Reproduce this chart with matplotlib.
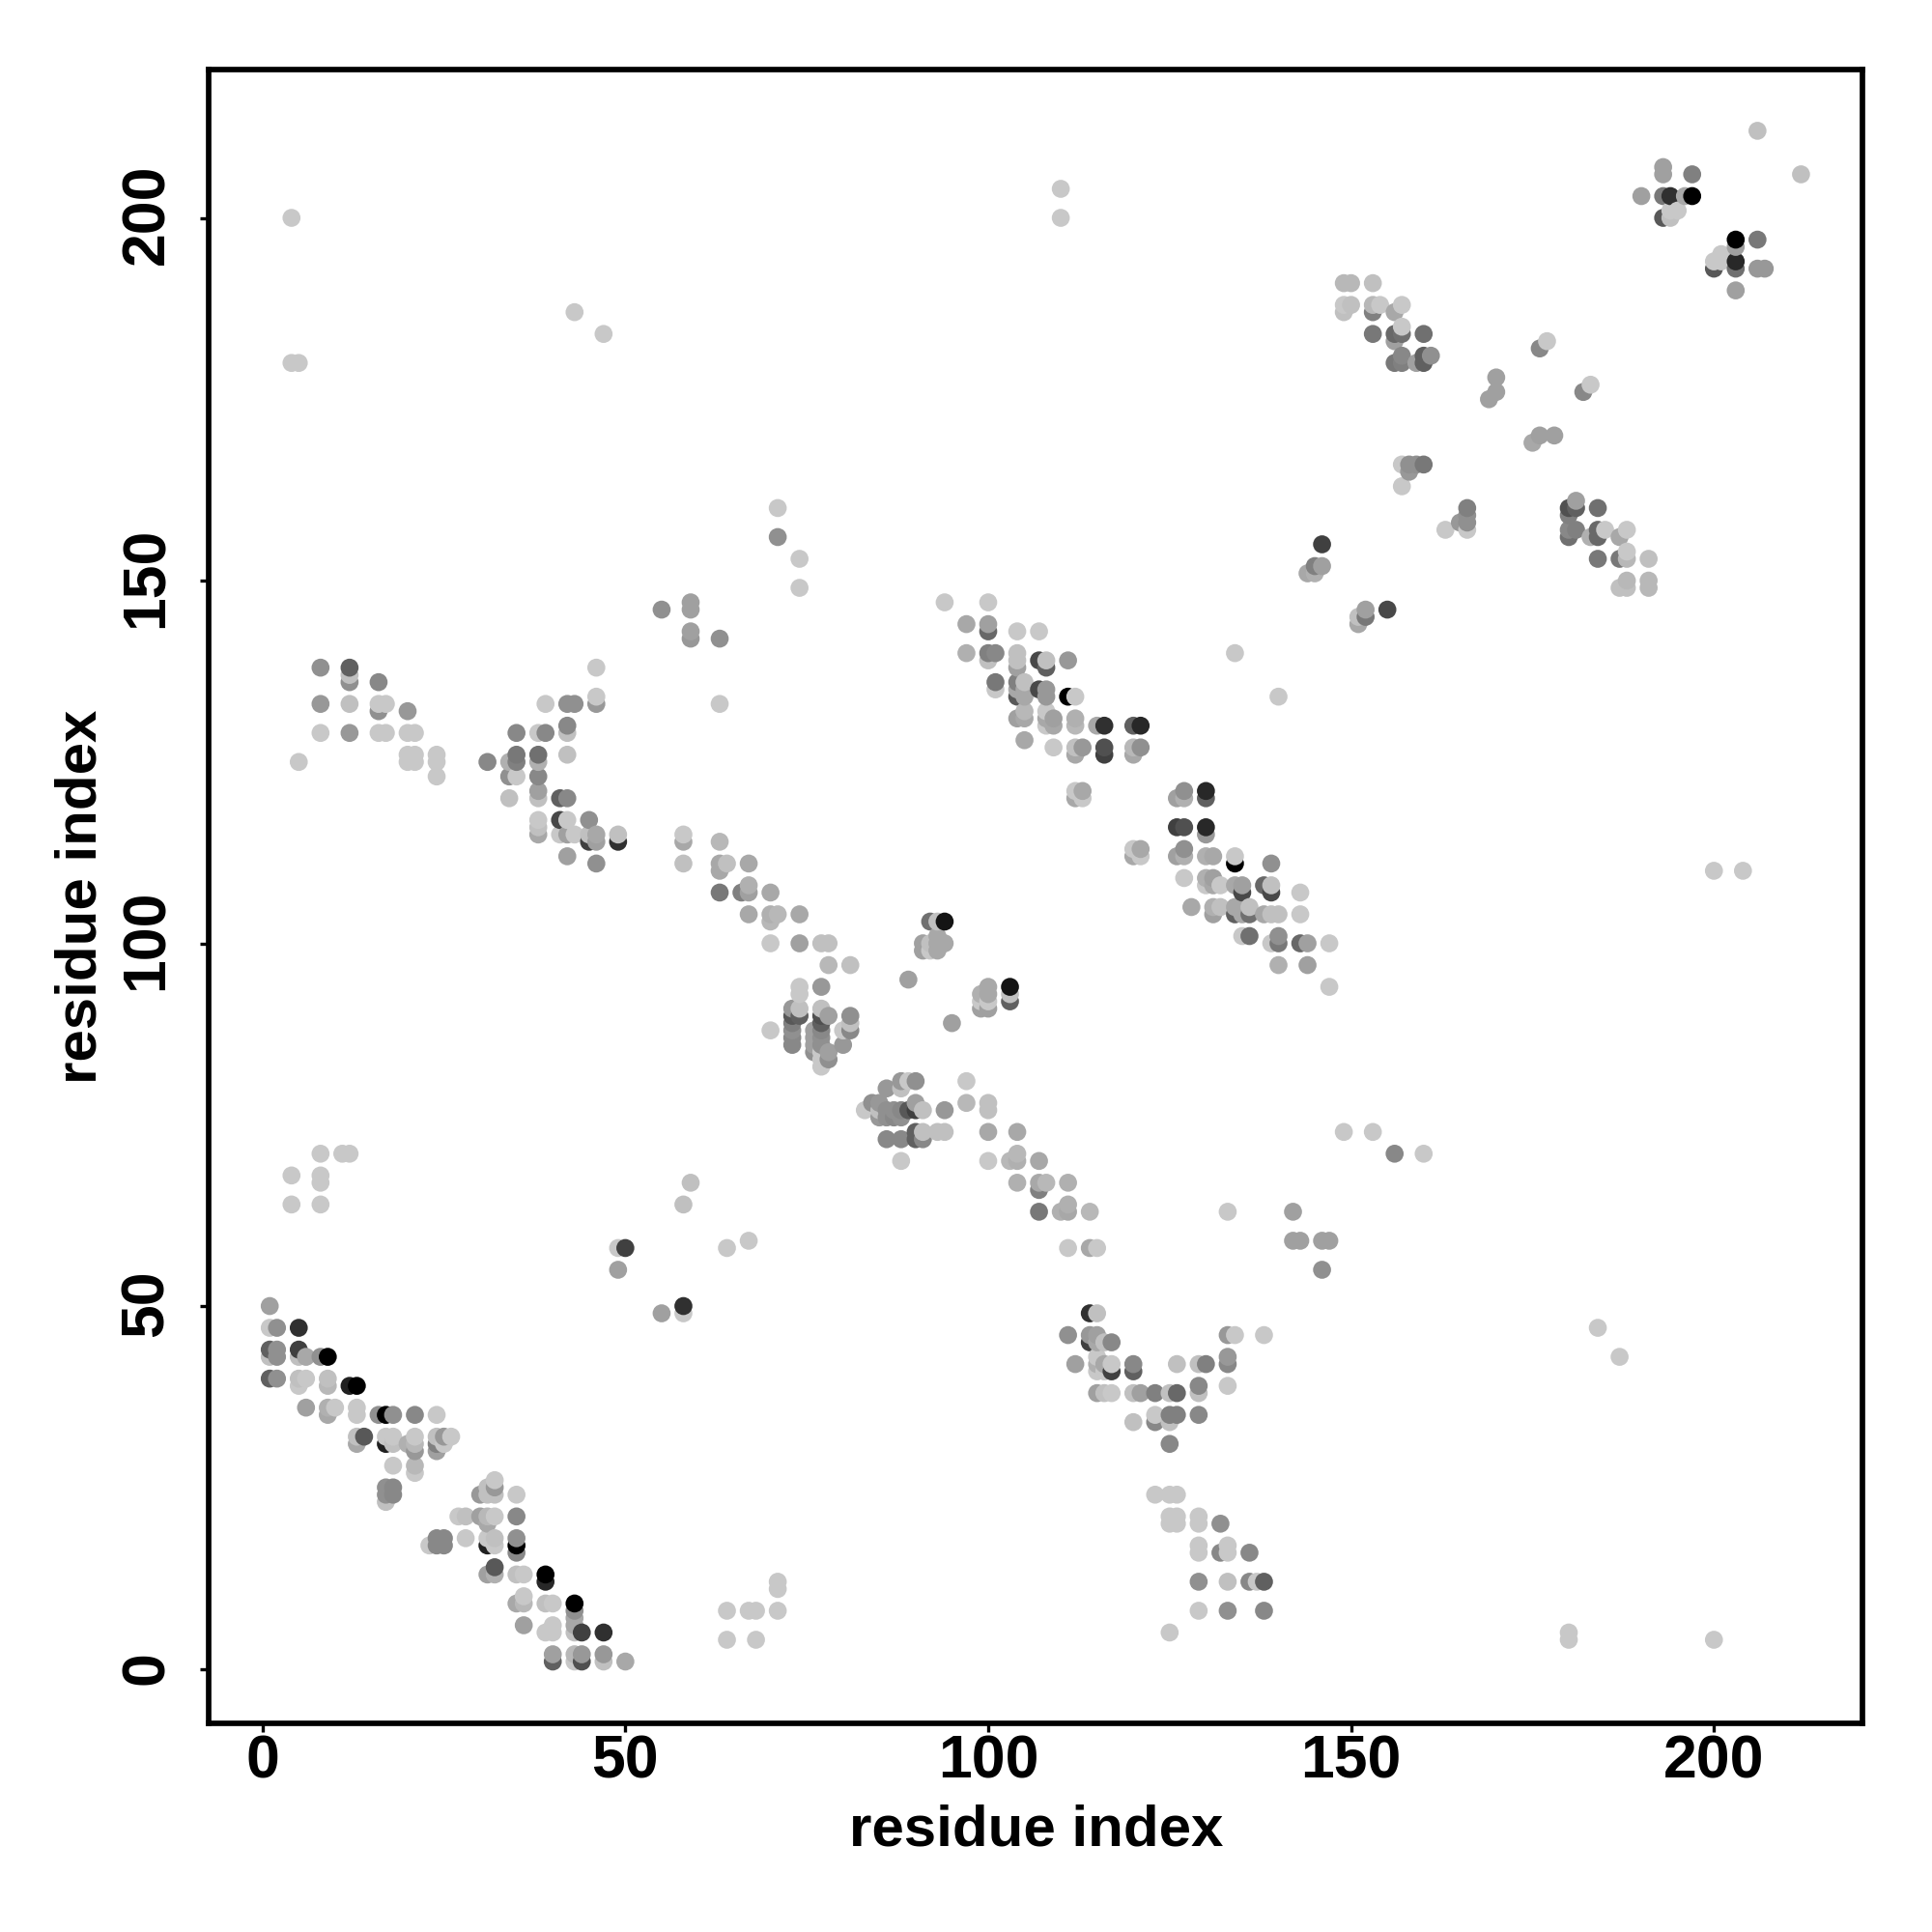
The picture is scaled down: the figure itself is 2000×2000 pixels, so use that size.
import numpy as np
import matplotlib
matplotlib.use("Agg")
import matplotlib.pyplot as plt
from matplotlib.transforms import ScaledTranslation

# contacts as (residue x, residue y, grey level 0-255), one list per region of the map
helix_low_left = [
    (1,50,0xa0),(1,47,0xc8),(2,47,0x90),(5,47,0x30),(1,44,0x60),(2,44,0x90),(1,43,0xc0),(2,43,0x90),
    (5,44,0x40),(5,43,0xc0),(6,43,0xa8),(8,43,0x90),(9,43,0x00),(1,40,0x60),(2,40,0x90),(5,40,0xc0),
    (6,40,0xc8),(5,39,0xc8),(9,40,0xc0),(9,39,0xb8),(12,39,0x20),(13,39,0x00),(6,36,0xa0),(9,36,0xb0),
    (9,35,0xa8),(10,36,0xc8),(13,36,0xc8),(13,35,0xc8),(16,35,0x90),(17,35,0x00),(18,35,0x90),(21,35,0x88),
    (24,35,0xc8),(13,32,0xc0),(13,31,0xa8),(14,32,0x58),(17,32,0xc8),(17,31,0x20),(18,32,0xc8),(18,31,0xc0),
    (20,31,0xb0),(21,32,0xc8),(21,31,0xb8),(21,30,0x98),(24,32,0xc0),(24,31,0x80),(24,30,0xa0),(25,32,0x98),
    (25,31,0xc8),(26,32,0xc8),(18,28,0xc8),(21,28,0xb8),(21,27,0xc8),(17,25,0x90),(18,25,0x88),(17,24,0x90),
    (18,24,0x88),(17,23,0xc0),
]
helix_low_mid = [
    (32,26,0xc8),(32,25,0x98),(31,25,0xc0),(30,24,0x98),(31,24,0xc0),(32,24,0xc0),(35,24,0xc8),(27,21,0xc8),
    (28,21,0xc0),(30,21,0xa0),(31,21,0xb8),(32,21,0xc8),(31,20,0xa8),(35,21,0x88),(23,17,0xc8),(24,18,0x88),
    (25,18,0x88),(24,17,0x88),(25,17,0x88),(28,18,0xc8),(31,18,0xc8),(31,17,0x20),(32,18,0xc0),(32,17,0xc8),
    (35,18,0x90),(35,17,0x00),(35,16,0x88),(31,13,0xa0),(32,14,0x58),(32,13,0xb0),(35,13,0xc0),(36,13,0xc8),
    (39,13,0x00),(39,12,0x28),(36,10,0xc8),(35,9,0xa8),(36,9,0xb8),(39,9,0xc0),(40,9,0xc8),(43,9,0x00),
    (43,8,0x90),(36,6,0xa0),(39,5,0xc8),(40,6,0xc8),(40,5,0xc8),(43,7,0xa8),(43,6,0xa8),(43,5,0xc0),
    (44,5,0x40),(47,5,0x30),(40,2,0xa0),(40,1,0x60),(43,2,0xb8),(43,1,0xc8),(44,2,0x98),(44,1,0x50),
    (47,2,0x98),(47,1,0xc0),(50,1,0xa8),
]
scattered_low = [
    (49,55,0xa0),(55,49,0xa0),(58,50,0x30),(58,49,0xc8),(49,58,0xc8),(50,58,0x40),(59,67,0xc0),(58,64,0xc0),
    (64,58,0xc8),(67,59,0xc8),(4,68,0xc8),(4,64,0xc8),(8,71,0xc8),(8,68,0xc8),(8,67,0xc8),(8,64,0xc8),
    (11,71,0xc8),(12,71,0xc8),(64,8,0xc8),(67,8,0xc8),(68,8,0xc8),(71,12,0xc8),(71,11,0xc8),(71,8,0xc8),
    (64,4,0xc8),(68,4,0xc8),(180,5,0xc8),(180,4,0xc8),(200,4,0xc8),(184,47,0xc8),(187,43,0xc8),
]
sheet_v_low = [
    (146,55,0x90),(114,49,0x30),(115,49,0xc0),(111,46,0x90),(114,46,0x98),(115,46,0xa0),(114,45,0x40),
    (115,45,0xa8),(116,45,0xc0),(117,45,0x88),(112,42,0xa0),(115,43,0xc8),(115,42,0xb0),(115,41,0xc8),
    (116,42,0xa8),(117,42,0xc8),(117,41,0x40),(116,41,0xc8),(120,42,0x88),(120,41,0x60),(115,38,0xa0),
    (116,38,0xc0),(117,38,0xc8),(120,38,0xc0),(121,38,0xa0),(123,38,0x80),(125,38,0xc0),(126,38,0x68),
    (120,34,0xc0),(123,35,0xc8),(123,34,0x88),(125,35,0x80),(126,35,0x80),(125,34,0xc0),(125,31,0x88),
    (126,42,0xc0),(129,42,0xc0),(130,42,0x80),(129,39,0x88),(129,38,0xc0),(129,35,0x88),(133,46,0x98),
    (134,46,0xc8),(138,46,0xc8),(133,43,0x98),(133,42,0x88),(133,39,0xc8),
]
sheet_low_right = [
    (123,24,0xc8),(125,24,0xc8),(126,24,0xc8),(125,21,0xc8),(126,21,0xc8),(125,20,0xc8),(126,20,0xc8),
    (129,21,0xc8),(129,20,0xc8),(132,20,0x90),(129,17,0xc8),(129,16,0xc8),(132,16,0x88),(133,17,0xc8),
    (133,16,0xc8),(136,16,0x88),(129,12,0x90),(133,12,0xc0),(136,12,0x88),(137,12,0xc8),(138,12,0x60),
    (129,8,0xc8),(133,8,0x90),(138,8,0x88),(125,5,0xc8),
]
center_upper = [
    (92,103,0x70),(93,103,0xc0),(94,103,0x14),(91,100,0xa0),(91,99,0xa0),(92,100,0xc0),(92,99,0xc8),
    (93,101,0xa8),(93,100,0xa8),(93,99,0xa8),(94,100,0xa8),(89,95,0xa0),(95,89,0xa0),(100,94,0xa8),
    (99,93,0xb0),(100,93,0xa8),(99,92,0xc8),(100,92,0xc8),(99,91,0xa0),(100,91,0xa0),(103,94,0x14),
    (103,93,0xc0),(103,92,0x60),
]
antidiag_upper = [
    (58,115,0xc8),(58,114,0xa8),(58,111,0xc0),(63,114,0xb8),(63,111,0xa8),(63,110,0xa8),(64,111,0xc0),
    (67,111,0xa8),(63,107,0x78),(66,107,0x80),(67,108,0xb0),(67,107,0xa0),(70,107,0xa8),(67,104,0xa8),
    (70,104,0xb0),(70,103,0xb8),(71,104,0xb8),(74,104,0xa8),(70,100,0xc8),(74,100,0xa0),(77,100,0xc0),
    (78,100,0xc0),(78,97,0xb8),(81,97,0xc0),(74,94,0xc8),(74,93,0xc8),(77,94,0x98),(73,91,0x98),(73,90,0x58),
    (74,91,0xc0),(74,90,0x60),(73,89,0x80),(73,88,0x90),(73,87,0x88),(73,86,0x88),(77,91,0xc0),(77,90,0x50),
    (78,90,0xa0),(77,89,0x60),(76,88,0xa0),(76,87,0xa0),(76,86,0xa0),(76,85,0x90),(77,88,0x88),(77,87,0x90),
    (77,86,0x90),(77,85,0xc8),(77,84,0xc8),(77,83,0xc8),(78,85,0xa0),(78,84,0x90),(81,90,0x90),(81,89,0xc0),
    (80,88,0xc8),(81,88,0x88),(80,86,0x98),(70,88,0xc8),
]
antidiag_lower = [
    (88,81,0x98),(89,81,0xc8),(90,81,0x90),(88,80,0xc0),(86,80,0x98),(83,77,0xc8),(84,78,0x90),(85,78,0x98),
    (85,77,0xc0),(85,76,0x98),(86,77,0x90),(86,76,0x90),(87,77,0x90),(87,76,0x88),(88,77,0x88),(88,76,0x90),
    (89,77,0x58),(90,78,0xa0),(90,77,0x40),(91,77,0xc0),(94,77,0x98),(86,73,0x88),(88,73,0x88),(90,74,0x60),
    (90,73,0x60),(91,74,0xc0),(91,73,0x88),(93,74,0xc0),(94,74,0xc0),(88,70,0xc8),(97,81,0xc8),(97,78,0xb8),
    (100,78,0xc0),(100,77,0xc0),(100,74,0xa8),(104,74,0xa8),(100,70,0xc8),(103,70,0xb8),(104,71,0xb8),
    (104,70,0xb0),(107,70,0xa8),(104,67,0xb0),(107,67,0xa8),(107,66,0x80),(108,67,0xb8),(111,67,0xb0),
    (107,63,0x78),(110,63,0xb0),(111,64,0xb0),(111,63,0xa8),(114,63,0xb8),(111,58,0xc8),(114,58,0xa8),
    (115,58,0xc8),(133,63,0xc8),(142,63,0xa0),(142,59,0xa0),(143,59,0xa0),(146,59,0xa0),(147,59,0xa0),
    (149,74,0xc8),(153,74,0xc8),(156,71,0x88),(160,71,0xc8),
]
sheet_mid_left = [
    (8,138,0x90),(12,138,0x60),(12,137,0xc0),(12,136,0x90),(16,136,0x88),(8,133,0x98),(12,133,0xc0),
    (16,133,0xc8),(16,132,0x90),(17,133,0xc8),(20,132,0x98),(8,129,0xc8),(12,129,0x98),(16,129,0xc8),
    (17,129,0xc8),(20,129,0xc8),(21,129,0xc8),(5,125,0xc8),(20,126,0xc8),(21,126,0xc8),(20,125,0xc8),
    (21,125,0xc8),(24,126,0xc8),(24,125,0xc8),(24,123,0xc8),(31,125,0x88),(34,125,0xb0),(34,123,0x90),
    (35,126,0x78),(35,125,0x80),(35,123,0xc8),(34,120,0xc0),(35,129,0x88),(38,129,0xc8),(39,129,0x88),
    (39,133,0xc8),(38,126,0x70),(38,125,0xb0),(38,123,0x88),(38,121,0xa0),(38,120,0xc0),(38,117,0xc8),
    (38,116,0xc0),(38,115,0xa8),(42,133,0x90),(43,133,0x90),(46,133,0x98),(46,134,0xc8),(46,138,0xc8),
    (42,130,0x88),(42,129,0xc0),(42,126,0xc0),(41,120,0x60),(42,120,0x88),(41,117,0x48),(42,117,0xc8),
    (41,115,0xc8),(42,115,0xa0),(43,115,0xc8),(45,117,0x90),(45,115,0xc0),(45,114,0x40),(46,115,0xa8),
    (46,114,0xa0),(49,115,0xc0),(49,114,0x30),(42,112,0xa0),(46,111,0x90),
]
sheet_upper_mid = [
    (94,147,0xc8),(100,147,0xc8),(97,144,0xa8),(100,144,0xa0),(100,143,0x68),(104,143,0xc8),(107,143,0xc8),
    (97,140,0xb0),(100,140,0x80),(100,139,0xc0),(101,140,0x88),(104,140,0xc0),(104,139,0xc0),(104,138,0xa0),
    (107,139,0x48),(108,139,0xc0),(108,138,0x60),(111,139,0x98),(101,136,0x78),(101,135,0xc8),(104,136,0x80),
    (105,136,0xc0),(104,135,0xa8),(104,134,0x58),(105,135,0xa8),(105,134,0xa8),(107,135,0x48),(108,135,0x98),
    (108,134,0x98),(111,134,0x00),(112,134,0xc8),(105,132,0xb8),(104,131,0xa0),(105,131,0xa8),(108,132,0xc8),
    (108,131,0xa8),(108,130,0xc8),(109,131,0xa0),(109,130,0xa8),(112,131,0xb0),(112,130,0xb8),(115,130,0xa8),
    (116,130,0x30),(120,130,0x60),(121,130,0x28),(105,128,0xa8),(109,127,0xc8),(112,127,0xc0),(112,126,0xa8),
    (113,127,0x98),(116,127,0x50),(116,126,0x40),(120,127,0xb8),(120,126,0xa8),(121,127,0x90),(112,121,0xc8),
    (113,121,0xa8),(112,120,0xa8),(113,120,0xc8),(134,140,0xc8),(140,134,0xc8),
]
sheet_right_mid = [
    (126,120,0xa0),(127,121,0x90),(127,120,0xb0),(130,121,0x28),(130,120,0x60),(126,116,0x40),(127,116,0x50),
    (130,116,0x28),(130,115,0x98),(120,113,0xc8),(121,113,0xa8),(120,112,0xa8),(121,112,0xc8),(126,112,0xa0),
    (127,113,0x90),(127,112,0xb0),(130,112,0xb0),(131,112,0xa8),(134,112,0xc8),(134,111,0x00),(139,111,0x90),
    (127,109,0xc8),(130,109,0xb0),(130,108,0xc8),(131,109,0xa0),(131,108,0xa8),(132,108,0xc8),(134,108,0xa8),
    (135,108,0xa0),(135,107,0x48),(138,108,0x68),(139,108,0xc0),(139,107,0x48),(143,107,0xc8),(128,105,0xa8),
    (131,105,0xb0),(131,104,0xa0),(132,105,0xc0),(134,105,0xa8),(134,104,0x60),(135,104,0xa8),(136,105,0xc0),
    (136,104,0x70),(138,104,0xa8),(139,104,0xc0),(140,104,0xc0),(143,104,0xc8),(135,101,0xc8),(136,101,0x70),
    (139,100,0xc8),(140,101,0x90),(140,100,0x78),(143,100,0x68),(144,100,0xa0),(147,100,0xc8),(140,97,0xb0),
    (144,97,0xa0),(147,94,0xc8),
]
upper_right = [
    (149,191,0xb8),(150,191,0xb8),(153,191,0xc0),(149,188,0xc8),(150,188,0xc0),(149,187,0xc0),(153,188,0xb8),
    (153,187,0x80),(154,188,0xc8),(156,187,0xa8),(157,188,0xc8),(153,184,0x78),(156,184,0x68),(156,183,0xa0),
    (157,185,0xc8),(157,184,0x70),(160,184,0x70),(156,180,0x78),(157,181,0x88),(157,180,0x80),(159,180,0xa0),
    (160,181,0x60),(160,180,0x60),(161,181,0x90),(177,183,0xc8),(176,182,0x88),(183,177,0xc8),(182,176,0x88),
    (170,178,0xa0),(170,176,0xa0),(169,175,0xa0),(176,170,0xa0),(178,170,0xa0),(175,169,0xa8),(157,166,0xc8),
    (158,166,0x90),(159,166,0x90),(160,166,0x78),(158,165,0x98),(157,163,0xc8),(166,160,0x80),(166,159,0x90),
    (166,158,0x90),(165,158,0x98),(166,157,0xc8),(163,157,0xc8),
]
sheet_150 = [
    (181,161,0xa0),(180,160,0x50),(181,160,0x60),(180,159,0x80),(184,160,0x70),(180,157,0x88),(181,157,0x80),
    (180,156,0x70),(183,156,0xb0),(184,157,0x68),(184,156,0x68),(185,157,0xc8),(187,156,0xa8),(188,157,0xc8),
    (184,153,0x78),(187,153,0x78),(188,154,0xc8),(188,153,0xb8),(191,153,0xc0),(187,149,0xc0),(188,150,0xb8),
    (188,149,0xc0),(191,150,0xb8),(191,149,0xb8),(146,155,0x40),(145,152,0x80),(146,152,0xa0),
    (144,151,0xa8),(145,151,0xb0),(151,144,0xa8),(151,145,0xc0),(152,146,0xa0),(152,145,0x78),(155,146,0x48),
]
corner_top = [
    (206,212,0xc0),(212,206,0xc0),(193,207,0xa0),(193,206,0xa0),(197,206,0x80),(190,203,0xa0),(193,203,0x78),
    (194,203,0x30),(196,203,0xa8),(197,203,0x00),(193,200,0x58),(194,200,0xc0),(194,201,0xc8),(195,201,0xc8),
    (203,197,0x00),(203,196,0xa0),(206,197,0x78),(200,194,0xc8),(201,195,0xc8),(201,194,0xc8),(200,193,0x58),
    (203,194,0x28),(203,193,0x70),(206,193,0x98),(207,193,0x98),(203,190,0xa0),
]
scattered_high = [
    (4,200,0xc8),(4,180,0xc8),(5,180,0xc8),(43,187,0xc8),(47,184,0xc8),(110,204,0xc8),(110,200,0xc8),
    (71,160,0xc8),(71,156,0x90),(74,153,0xc8),(74,149,0xc8),(55,146,0x90),(59,147,0xa0),(59,146,0xa0),
    (59,143,0xa0),(59,142,0x98),(63,142,0x90),(63,133,0xc8),(200,110,0xc8),(204,110,0xc8),
]
regions = [helix_low_left, helix_low_mid, scattered_low, sheet_v_low, sheet_low_right, center_upper,
           antidiag_upper, antidiag_lower, sheet_mid_left, sheet_upper_mid, sheet_right_mid,
           upper_right, sheet_150, corner_top, scattered_high]
ticks = [0, 50, 100, 150, 200]

pts = np.array([p for reg in regions for p in reg], dtype=float)
# later residues paint over earlier ones, and higher y over lower y
pts = pts[np.lexsort((pts[:, 1], pts[:, 0]))]

plt.rcParams["font.family"] = ["Liberation Sans", "DejaVu Sans"]
plt.rcParams["font.weight"] = "bold"

fig = plt.figure(figsize=(10, 10), dpi=200)
ax = fig.add_axes([216.2/2000, 1-1784/2000, 1712/2000, 1712.2/2000])
ax.scatter(pts[:, 0], pts[:, 1], s=45, c=np.repeat(pts[:, 2:3] / 255, 3, axis=1), linewidths=0, zorder=2)
ax.set_xlim(-7.39, 220.49)
ax.set_ylim(-7.52, 220.47)

for side in ax.spines.values():
    side.set_linewidth(2.05)
ax.set_xticks(ticks)
ax.set_yticks(ticks)
ax.tick_params(length=3.2, width=1.2, labelsize=22.5)
ax.tick_params(axis="x", pad=0.5)
ax.tick_params(axis="y", pad=9.1)
plt.setp(ax.get_yticklabels(), rotation=90, va="center")
# rotated labels sit a little low, more so the longer they are
fig.canvas.draw()
for tick_lbl in ax.get_yticklabels():
    up = 1.2 * len(tick_lbl.get_text()) / 200
    tick_lbl.set_transform(tick_lbl.get_transform() + ScaledTranslation(0, up, fig.dpi_scale_trans))
ax.set_xlabel("residue index", fontsize=21.6, fontweight="bold", labelpad=5)
ax.set_ylabel("residue index", fontsize=21.6, fontweight="bold", labelpad=4)

fig.savefig("out.png", dpi=200)
